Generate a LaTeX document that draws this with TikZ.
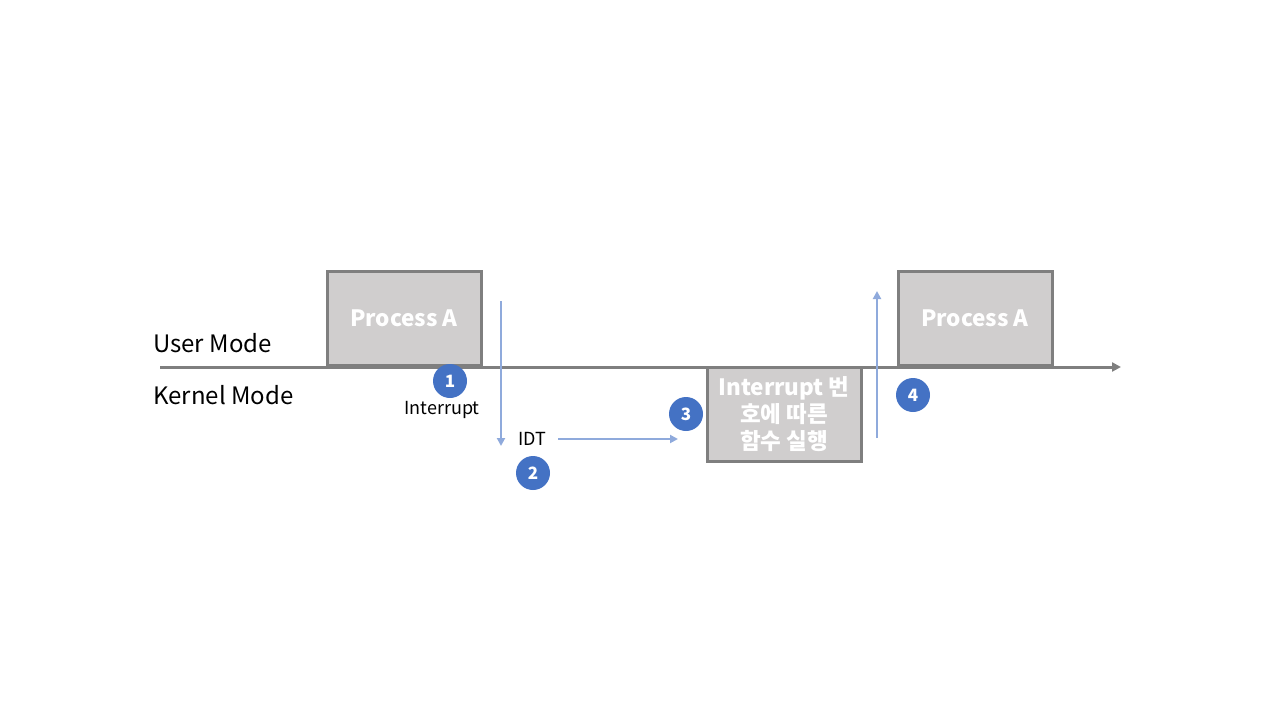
\documentclass[tikz,border=0pt]{standalone}
\usepackage{fontspec}
\setmainfont{Noto Sans CJK KR}
\usetikzlibrary{arrows.meta}
\definecolor{boxfill}{HTML}{D0CECE}
\definecolor{boxline}{HTML}{7F7F7F}
\definecolor{arrowblue}{HTML}{8FAADC}
\definecolor{circblue}{HTML}{4472C4}
\tikzset{
  procbox/.style={draw=boxline, line width=3pt, fill=boxfill, minimum width=154pt, minimum height=94pt, inner sep=0pt, text=white, font=\fontsize{22.5}{27}\selectfont\bfseries, align=center},
  flow/.style={draw=arrowblue, line width=2.4pt, -{Triangle[length=8pt,width=8pt]}},
  stepnum/.style={circle, fill=circblue, minimum size=34pt, inner sep=0pt, text=white, font=\fontsize{17}{17}\selectfont\bfseries},
  modelabel/.style={anchor=west, font=\fontsize{24}{24}\selectfont, inner sep=0pt},
  smalllabel/.style={font=\fontsize{18}{18}\selectfont, inner sep=0pt}
}
\begin{document}
\begin{tikzpicture}[x=1pt,y=-1pt]
\useasboundingbox (0,0) rectangle (1280,720);
\coordinate (tl0) at (160,367);
\coordinate (tl1) at (1121,367);
\node[procbox] (pa1) at (404,318) {\raisebox{-2pt}{Process A}};
\node[procbox] (pa2) at (975,318) {\raisebox{-2pt}{Process A}};
\node[procbox] (isr) at (784,414.5) {Interrupt 번\\호에 따른\\함수 실행};
\draw[draw=boxline, line width=3pt, -{Triangle[length=9pt,width=9pt]}] (tl0) -- (tl1);
\node[modelabel] (um) at (153,343) {User Mode};
\node[modelabel] (km) at (153,395) {Kernel Mode};
\node[smalllabel] (intr) at (442,410) {Interrupt};
\node[smalllabel] (idt) at (532,439) {IDT};
\coordinate (d0) at (501,301);
\coordinate (d1) at (501,446);
\draw[flow] (d0) -- (d1);
\coordinate (h0) at (558,439);
\coordinate (h1) at (678,439);
\draw[flow] (h0) -- (h1);
\coordinate (u0) at (877,438);
\coordinate (u1) at (877,291);
\draw[flow] (u0) -- (u1);
\node[stepnum] (s1) at (450,381) {1};
\node[stepnum] (s2) at (533,473) {2};
\node[stepnum] (s3) at (686,414) {3};
\node[stepnum] (s4) at (913,395) {4};
\end{tikzpicture}
\end{document}
